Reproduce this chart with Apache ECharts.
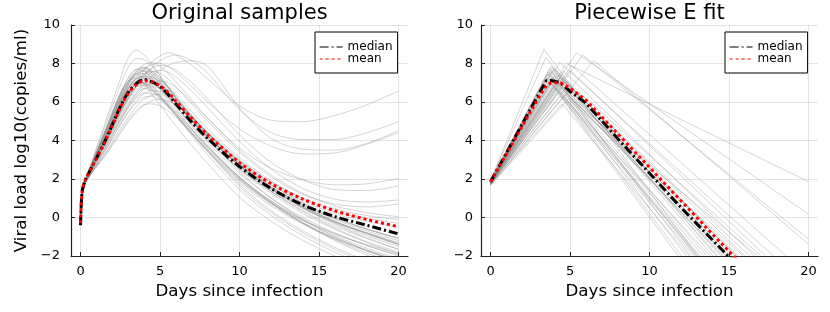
<!DOCTYPE html>
<html><head><meta charset="utf-8">
<script src="https://cdn.jsdelivr.net/npm/echarts@6/dist/echarts.min.js"></script>
<style>html,body{margin:0;padding:0;background:#fff}#c{width:830px;height:312px}</style>
</head><body><div id="c"></div>
<script>
// ---- data: original model samples (left panel), values on the day grid ----
const days = [0, 0.1, 0.3, 0.7, 1.5, 2.5, 3, 3.5, 4, 4.5, 5, 5.5, 6, 7, 8, 10, 12, 14, 16, 18, 20];
const originalSamples = [
  [-0.3, 1.2, 1.95, 2.9, 4.8, 7.2, 8.3, 8.7, 8.45, 7.95, 7.35, 6.75, 6.2, 5.1, 4.1, 2.4, 1.0, -0.1, -1.0, -1.7, -2.3],
  [-0.3, 1.2, 1.95, 2.85, 4.65, 6.85, 7.8, 8.25, 8.2, 7.85, 7.35, 6.8, 6.25, 5.2, 4.25, 2.7, 1.5, 0.55, -0.2, -0.8, -1.4],
  [-0.3, 1.2, 1.9, 2.75, 4.4, 6.4, 7.2, 7.7, 7.8, 7.5, 7.05, 6.55, 6.0, 5.0, 4.05, 2.5, 1.25, 0.2, -0.6, -1.3, -1.9],
  [-0.35, 1.2, 1.9, 2.7, 4.3, 6.3, 7.05, 7.6, 7.8, 7.6, 7.2, 6.75, 6.25, 5.3, 4.4, 2.9, 1.7, 0.75, 0.0, -0.6, -1.1],
  [-0.3, 1.15, 1.9, 2.7, 4.25, 6.2, 6.95, 7.5, 7.75, 7.6, 7.25, 6.8, 6.3, 5.3, 4.35, 2.8, 1.55, 0.5, -0.35, -1.05, -1.65],
  [-0.3, 1.2, 1.9, 2.75, 4.4, 6.45, 7.25, 7.68, 7.6, 7.25, 6.8, 6.3, 5.8, 4.75, 3.75, 2.1, 0.8, -0.3, -1.2, -1.95, -2.6],
  [-0.35, 1.15, 1.9, 2.65, 4.2, 6.15, 6.9, 7.45, 7.6, 7.4, 7.0, 6.55, 6.05, 5.1, 4.2, 2.7, 1.5, 0.5, -0.3, -0.95, -1.5],
  [-0.3, 1.2, 1.9, 2.7, 4.35, 6.3, 7.05, 7.5, 7.45, 7.1, 6.65, 6.15, 5.65, 4.6, 3.65, 2.05, 0.85, -0.1, -0.85, -1.45, -1.95],
  [-0.35, 1.15, 1.9, 2.65, 4.15, 6.05, 6.85, 7.4, 7.65, 7.5, 7.15, 6.7, 6.2, 5.25, 4.35, 2.95, 1.85, 1.0, 0.45, 0.1, -0.09],
  [-0.3, 1.15, 1.9, 2.6, 3.95, 5.6, 6.35, 7.05, 7.65, 8.1, 8.4, 8.55, 8.45, 7.9, 7.2, 5.8, 5.05, 4.98, 5.3, 5.85, 6.57],
  [-0.3, 1.15, 1.85, 2.55, 3.85, 5.45, 6.15, 6.8, 7.35, 7.8, 8.15, 8.35, 8.44, 8.15, 7.5, 5.6, 4.4, 4.05, 4.05, 4.4, 4.98],
  [-0.3, 1.1, 1.85, 2.5, 3.7, 5.2, 5.85, 6.45, 6.95, 7.35, 7.65, 7.9, 8.05, 8.15, 7.85, 5.7, 4.1, 3.55, 3.5, 3.85, 4.51],
  [-0.3, 1.2, 1.9, 2.65, 4.1, 5.9, 6.7, 7.3, 7.7, 7.95, 8.0, 7.85, 7.55, 6.8, 6.0, 4.6, 3.7, 3.3, 3.35, 3.8, 4.41],
  [-0.3, 1.2, 1.9, 2.7, 4.25, 6.15, 6.95, 7.55, 7.95, 8.05, 7.85, 7.5, 7.05, 6.1, 5.15, 3.6, 2.55, 1.95, 1.7, 1.75, 2.03],
  [-0.3, 1.15, 1.9, 2.6, 3.9, 5.65, 6.4, 7.0, 7.45, 7.75, 7.9, 7.85, 7.65, 7.0, 6.15, 4.3, 2.85, 1.95, 1.45, 1.4, 1.64],
  [-0.3, 1.15, 1.85, 2.55, 3.8, 5.45, 6.2, 6.8, 7.25, 7.55, 7.65, 7.55, 7.3, 6.55, 5.7, 3.95, 2.5, 1.5, 0.95, 0.8, 0.91],
  [-0.3, 1.15, 1.9, 2.6, 3.95, 5.7, 6.45, 7.05, 7.45, 7.6, 7.5, 7.2, 6.8, 5.9, 5.0, 3.4, 2.1, 1.2, 0.7, 0.55, 0.7],
  [-0.35, 1.15, 1.9, 2.6, 4.05, 5.95, 6.7, 7.25, 7.5, 7.35, 6.95, 6.5, 6.0, 5.0, 4.1, 2.55, 1.35, 0.35, -0.45, -1.1, -1.65],
  [-0.3, 1.2, 1.9, 2.75, 4.35, 6.35, 7.05, 7.42, 7.25, 6.85, 6.35, 5.85, 5.35, 4.35, 3.4, 1.8, 0.6, -0.35, -1.1, -1.7, -2.2],
  [-0.35, 1.15, 1.85, 2.55, 3.95, 5.75, 6.5, 7.05, 7.35, 7.3, 7.0, 6.6, 6.15, 5.2, 4.3, 2.8, 1.6, 0.65, -0.1, -0.7, -1.2],
  [-0.3, 1.15, 1.9, 2.65, 4.1, 6.0, 6.75, 7.2, 7.3, 7.1, 6.7, 6.25, 5.75, 4.8, 3.9, 2.3, 1.0, 0.0, -0.8, -1.45, -2.0],
  [-0.35, 1.15, 1.9, 2.6, 4.0, 5.85, 6.6, 7.05, 7.2, 7.05, 6.7, 6.25, 5.8, 4.85, 4.0, 2.5, 1.35, 0.45, -0.25, -0.8, -1.3],
  [-0.3, 1.1, 1.85, 2.5, 3.8, 5.5, 6.25, 6.8, 7.15, 7.25, 7.1, 6.8, 6.4, 5.5, 4.6, 3.1, 1.9, 0.95, 0.3, -0.05, -0.3],
  [-0.3, 1.2, 1.9, 2.7, 4.2, 6.1, 6.8, 7.08, 7.0, 6.7, 6.3, 5.8, 5.3, 4.25, 3.25, 1.45, 0.1, -0.95, -1.8, -2.5, -3.1],
  [-0.35, 1.1, 1.85, 2.5, 3.8, 5.5, 6.2, 6.7, 6.95, 6.95, 6.75, 6.4, 6.0, 5.1, 4.25, 2.7, 1.5, 0.55, -0.2, -0.8, -1.35],
  [-0.3, 1.15, 1.85, 2.55, 3.9, 5.65, 6.35, 6.8, 6.95, 6.8, 6.45, 6.0, 5.55, 4.6, 3.7, 2.1, 0.85, -0.15, -0.95, -1.6, -2.15],
  [-0.3, 1.15, 1.9, 2.6, 4.0, 5.75, 6.45, 6.8, 6.85, 6.6, 6.2, 5.75, 5.3, 4.35, 3.45, 1.9, 0.7, -0.3, -1.1, -1.75, -2.3],
  [-0.35, 1.15, 1.9, 2.6, 4.05, 5.95, 6.7, 7.2, 7.35, 7.2, 6.85, 6.4, 5.95, 5.0, 4.15, 2.7, 1.55, 0.65, -0.05, -0.6, -1.05],
  [-0.3, 1.2, 1.9, 2.65, 4.15, 6.0, 6.7, 7.0, 6.95, 6.65, 6.25, 5.8, 5.35, 4.4, 3.5, 1.95, 0.75, -0.15, -0.85, -1.4, -1.85],
  [-0.3, 1.2, 1.95, 2.8, 4.45, 6.45, 7.1, 7.25, 6.95, 6.4, 5.85, 5.3, 4.75, 3.75, 2.8, 1.05, -0.2, -1.2, -2.0, -2.65, -3.25],
  [-0.3, 1.1, 1.85, 2.5, 3.75, 5.4, 6.1, 6.6, 6.85, 6.9, 6.7, 6.35, 5.95, 5.05, 4.2, 2.65, 1.45, 0.5, -0.25, -0.85, -1.4],
  [-0.3, 1.1, 1.8, 2.45, 3.6, 5.1, 5.8, 6.35, 6.75, 7.0, 7.1, 7.0, 6.75, 6.0, 5.15, 3.5, 2.2, 1.25, 0.6, 0.25, 0.04],
  [-0.25, 1.1, 1.8, 2.4, 3.5, 5.0, 5.7, 6.25, 6.65, 6.8, 6.7, 6.45, 6.1, 5.25, 4.4, 2.85, 1.6, 0.6, -0.2, -0.85, -1.4],
  [-0.3, 1.1, 1.85, 2.5, 3.7, 5.3, 5.95, 6.45, 6.7, 6.6, 6.3, 5.9, 5.45, 4.5, 3.6, 2.0, 0.75, -0.25, -1.05, -1.7, -2.25],
  [-0.25, 1.05, 1.8, 2.35, 3.4, 4.85, 5.5, 6.05, 6.45, 6.6, 6.55, 6.3, 5.95, 5.1, 4.25, 2.65, 1.35, 0.3, -0.55, -1.25, -1.8],
  [-0.3, 1.1, 1.8, 2.4, 3.55, 5.05, 5.7, 6.2, 6.45, 6.45, 6.2, 5.85, 5.45, 4.55, 3.65, 2.05, 0.75, -0.3, -1.15, -1.85, -2.4],
  [-0.2, 1.05, 1.8, 2.3, 3.25, 4.6, 5.2, 5.75, 6.15, 6.35, 6.4, 6.25, 5.95, 5.2, 4.4, 2.9, 1.7, 0.75, 0.0, -0.6, -1.1],
  [-0.25, 1.05, 1.8, 2.35, 3.4, 4.8, 5.45, 5.95, 6.25, 6.3, 6.1, 5.75, 5.35, 4.4, 3.45, 1.6, 0.25, -0.8, -1.65, -2.35, -2.95],
  [-0.2, 1.05, 1.75, 2.3, 3.15, 4.35, 4.95, 5.45, 5.85, 6.05, 6.15, 6.05, 5.85, 5.2, 4.45, 3.0, 1.8, 0.85, 0.2, -0.2, -0.5],
  [-0.2, 1.05, 1.75, 2.3, 3.2, 4.45, 5.05, 5.55, 5.85, 5.9, 5.8, 5.55, 5.2, 4.35, 3.5, 1.7, 0.35, -0.7, -1.55, -2.25, -2.85]
];
const medianOriginal = [-0.4, 1.35, 1.95, 2.6, 3.9, 5.75, 6.5, 6.95, 7.17, 7.05, 6.8, 6.4, 5.9, 4.95, 4.1, 2.65, 1.5, 0.65, 0.05, -0.4, -0.85];
const meanOriginal   = [-0.3, 1.35, 1.95, 2.6, 3.85, 5.7, 6.45, 6.9, 7.1, 7.05, 6.85, 6.5, 6.05, 5.15, 4.3, 2.85, 1.75, 0.95, 0.35, -0.1, -0.48];

// ---- data: piecewise fits (right panel): start, peak, end of each sample ----
const pwStart    = [1.9, 1.92, 1.88, 1.86, 1.84, 1.9, 1.82, 1.88, 1.8, 1.78, 1.75, 1.7, 1.82, 1.86, 1.74, 1.72, 1.8, 1.84, 1.92, 1.8, 1.86, 1.82, 1.76, 1.9, 1.78, 1.84, 1.88, 1.8, 1.86, 1.74, 1.94, 1.72, 1.76, 1.82, 1.7, 1.8, 1.68, 1.78, 1.66, 1.74];
const pwPeakDay  = [3.36, 3.47, 3.8, 3.9, 4.0, 3.7, 3.85, 3.65, 3.95, 5.4, 5.8, 6.5, 4.77, 4.35, 5.1, 5.0, 4.6, 4.1, 3.6, 4.2, 3.9, 4.0, 4.4, 3.75, 4.3, 4.1, 3.95, 4.05, 3.8, 3.55, 4.25, 4.8, 4.5, 4.2, 4.6, 4.3, 4.7, 4.4, 4.9, 4.5];
const pwPeakLoad = [8.74, 8.3, 7.85, 7.8, 7.75, 7.7, 7.6, 7.55, 7.65, 8.56, 8.44, 8.15, 8.0, 8.06, 7.9, 7.65, 7.6, 7.5, 7.45, 7.4, 7.3, 7.2, 7.25, 7.1, 7.0, 6.95, 6.85, 7.35, 7.0, 7.25, 6.9, 7.1, 6.8, 6.7, 6.6, 6.5, 6.4, 6.3, 6.15, 5.9];
const pwEndDay   = [13.0, 14.2, 14.0, 15.4, 14.8, 12.6, 14.5, 12.9, 16.0, 20, 20, 20, 20, 17.8, 18.6, 17.3, 16.6, 14.3, 12.3, 15.0, 13.6, 14.6, 16.3, 12.0, 15.2, 13.4, 13.0, 15.6, 13.8, 11.8, 14.9, 17.0, 15.5, 13.2, 14.7, 13.1, 16.8, 12.8, 15.9, 12.5];
const pwEndLoad  = [-2, -2, -2, -2, -2, -2, -2, -2, -2, 0.17, -1.13, -1.38, 1.86, -2, -2, -2, -2, -2, -2, -2, -2, -2, -2, -2, -2, -2, -2, -2, -2, -2, -2, -2, -2, -2, -2, -2, -2, -2, -2, -2];
const pwDays = [0, 1, 2, 3, 3.5, 3.8, 4.4, 5, 6, 8, 10, 12, 14, 16, 20];
const medianPiecewise = [1.86, 3.36, 4.86, 6.36, 7.1, 7.12, 7.0, 6.55, 5.95, 4.1, 2.3, 0.5, -1.2, -2.9, -6.3];
const meanPiecewise   = [1.86, 3.3, 4.75, 6.2, 6.85, 7.0, 7.0, 6.72, 6.1, 4.35, 2.6, 0.85, -0.9, -2.6, -6.0];

const xTicks = [0, 5, 10, 15, 20];
const panelTitles = ['Original samples', 'Piecewise E fit'];
const legendNames = ['median', 'mean'];

// ---- chart ----
const FONT = 'DejaVu Sans';
const AXIS = '#222';
const GRIDC = 'rgba(0,0,0,0.1)';
const GRAY = 'rgba(128,128,128,0.33)';
const chart = echarts.init(document.getElementById('c'), null, {renderer: 'canvas'});

function xAxisFor(i) {
  return {
    type: 'value', gridIndex: i, min: -0.6, max: 20.6,
    axisLine: {show: true, onZero: false, lineStyle: {color: AXIS, width: 1.2}},
    axisTick: {show: true, inside: true, length: 4, customValues: xTicks, lineStyle: {color: AXIS, width: 1}},
    axisLabel: {customValues: xTicks, fontSize: 13, color: '#000', fontFamily: FONT, margin: 9},
    splitLine: {show: true, lineStyle: {color: GRIDC, width: 1}},
    name: 'Days since infection', nameLocation: 'middle', nameGap: 27,
    nameTextStyle: {fontSize: 16.7, color: '#000', fontFamily: FONT}
  };
}
function yAxisFor(i) {
  const ax = {
    type: 'value', gridIndex: i, min: -2, max: 10, interval: 2,
    axisLine: {show: true, onZero: false, lineStyle: {color: AXIS, width: 1.2}},
    axisTick: {show: true, inside: true, length: 4, lineStyle: {color: AXIS, width: 1}},
    axisLabel: {fontSize: 13, color: '#000', fontFamily: FONT, margin: i === 0 ? 11 : 8,
      formatter: v => v < 0 ? '\u2212' + (-v) : String(v)},
    splitLine: {show: true, lineStyle: {color: GRIDC, width: 1}}
  };
  if (i === 0) {
    ax.name = 'Viral load log10(copies/ml)';
    ax.nameLocation = 'middle';
    ax.nameGap = 41;
    ax.nameTextStyle = {fontSize: 16.7, color: '#000', fontFamily: FONT};
  }
  return ax;
}

const series = [];
originalSamples.forEach(vals => {
  series.push({type: 'line', xAxisIndex: 0, yAxisIndex: 0, data: days.map((d, k) => [d, vals[k]]),
    smooth: 0.3, symbol: 'none', silent: true, z: 2, lineStyle: {color: GRAY, width: 1}});
});
pwStart.forEach((s, k) => {
  series.push({type: 'line', xAxisIndex: 1, yAxisIndex: 1,
    data: [[0, s], [pwPeakDay[k], pwPeakLoad[k]], [pwEndDay[k], pwEndLoad[k]]],
    symbol: 'none', silent: true, z: 2, lineStyle: {color: GRAY, width: 1}});
});
const medStyle = {color: '#000', width: 3, type: [9, 3, 2, 3]};
const meanStyle = {color: '#ff0000', width: 3, type: [3, 3]};
series.push({name: 'median', type: 'line', xAxisIndex: 0, yAxisIndex: 0, data: days.map((d, k) => [d, medianOriginal[k]]),
  smooth: 0.3, symbol: 'none', z: 3, lineStyle: medStyle, itemStyle: {color: '#000'}});
series.push({name: 'mean', type: 'line', xAxisIndex: 0, yAxisIndex: 0, data: days.map((d, k) => [d, meanOriginal[k]]),
  smooth: 0.3, symbol: 'none', z: 4, lineStyle: meanStyle, itemStyle: {color: '#ff0000'}});
series.push({name: 'median', type: 'line', xAxisIndex: 1, yAxisIndex: 1, data: pwDays.map((d, k) => [d, medianPiecewise[k]]),
  symbol: 'none', z: 3, lineStyle: medStyle, itemStyle: {color: '#000'}});
series.push({name: 'mean', type: 'line', xAxisIndex: 1, yAxisIndex: 1, data: pwDays.map((d, k) => [d, meanPiecewise[k]]),
  symbol: 'none', z: 4, lineStyle: meanStyle, itemStyle: {color: '#ff0000'}});

function legendAt(left) {
  return {
    data: legendNames, left: left, top: 32, orient: 'vertical',
    itemWidth: 23, itemHeight: 12, itemGap: 0, padding: [9, 5, 8, 4],
    borderColor: '#000', borderWidth: 1, backgroundColor: '#fff',
    textStyle: {fontSize: 12, color: '#000', fontFamily: FONT, lineHeight: 12},
    itemStyle: {opacity: 0},
    lineStyle: {width: 1.2}, selectedMode: false
  };
}

chart.setOption({
  animation: false,
  backgroundColor: '#fff',
  title: [
    {text: panelTitles[0], left: 239.5, top: 3, textAlign: 'center', padding: 0,
      textStyle: {fontSize: 21, fontWeight: 'normal', color: '#000', fontFamily: FONT}},
    {text: panelTitles[1], left: 649.5, top: 3, textAlign: 'center', padding: 0,
      textStyle: {fontSize: 21, fontWeight: 'normal', color: '#000', fontFamily: FONT}}
  ],
  grid: [
    {left: 71, top: 25, width: 337, height: 231, containLabel: false},
    {left: 481, top: 25, width: 337, height: 231, containLabel: false}
  ],
  xAxis: [xAxisFor(0), xAxisFor(1)],
  yAxis: [yAxisFor(0), yAxisFor(1)],
  legend: [legendAt(315), legendAt(725)],
  series: series
});
</script></body></html>
